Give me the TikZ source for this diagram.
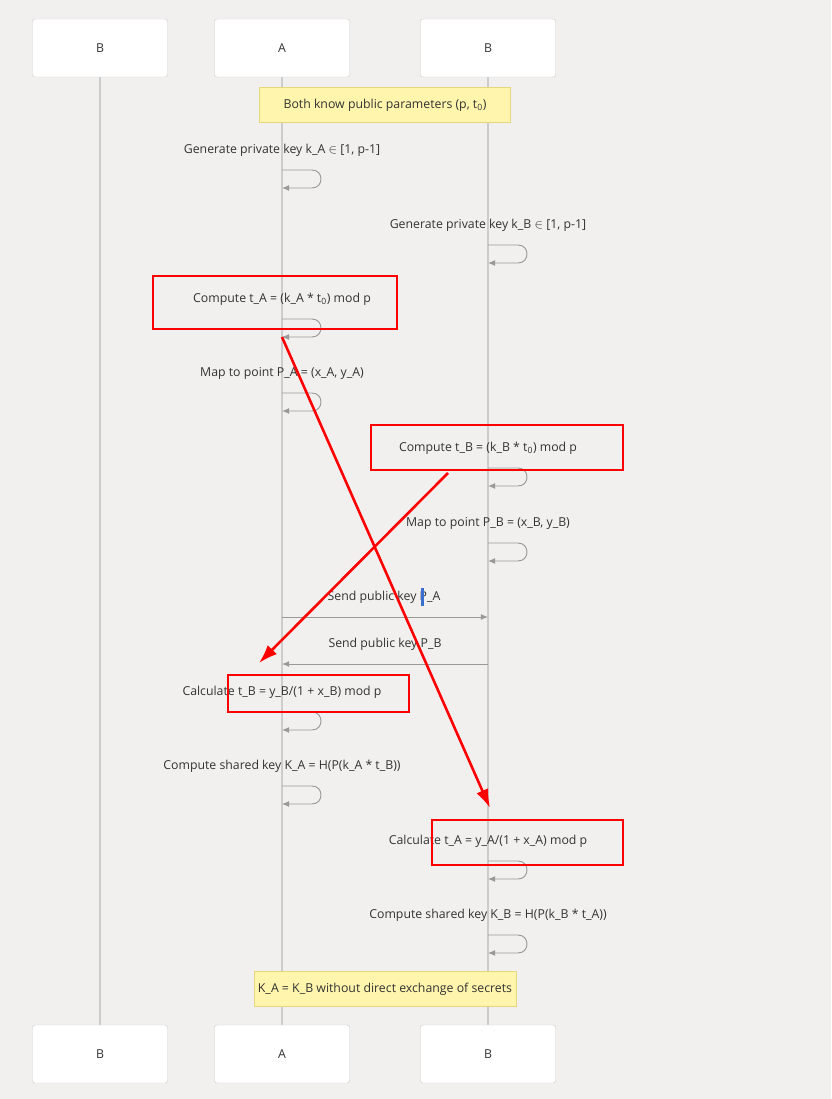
\documentclass[tikz,border=0pt]{standalone}
\usepackage{fontspec}
\setmainfont{Open Sans}
\usetikzlibrary{positioning,arrows.meta}
\definecolor{bgcol}{HTML}{F2F0EF}
\definecolor{notefill}{HTML}{FFF5AD}
\definecolor{notedraw}{HTML}{E6D77F}
\definecolor{linegray}{HTML}{CCCCCC}
\definecolor{msggray}{HTML}{999999}
\definecolor{txt}{HTML}{333333}
\definecolor{cursor}{HTML}{3A6FD0}
\tikzset{
  actor/.style={draw=linegray, fill=white, rounded corners=2pt, minimum width=4.05cm, minimum height=1.74cm, text=txt, font=\fontsize{10.5}{12}\selectfont},
  note/.style={draw=notedraw, fill=notefill, minimum width=7.53cm, minimum height=1.05cm, text=txt, font=\fontsize{10.5}{12}\selectfont},
  lbl/.style={text=txt, font=\fontsize{10.5}{12}\selectfont},
  life/.style={draw=linegray, line width=1pt},
  msg/.style={draw=msggray, line width=0.8pt, -{Latex[length=6pt,width=5pt]}},
  hl/.style={draw=red, line width=2.2pt},
  hlarrow/.style={draw=red, line width=2.2pt, -{Latex[length=16pt,width=11pt]}}
}
\begin{document}
\begin{tikzpicture}[x=0.03cm, y=-0.03cm]
  \fill[bgcol] (0,0) rectangle (831,1099);
  % actors
  \node[actor] (b0t) at (100,48) {B};
  \node[actor] (at) at (282,48) {A};
  \node[actor] (bt) at (488,48) {B};
  \node[actor] (b0b) at (100,1054) {B};
  \node[actor] (ab) at (282,1054) {A};
  \node[actor] (bb) at (488,1054) {B};
  % lifelines
  \draw[life] (b0t) -- (b0b);
  \draw[life] (at) -- (ab);
  \draw[life] (bt) -- (bb);
  % notes
  \node[note] (n1) at (385,105) {Both know public parameters (p, t\textsubscript{0})};
  \node[note] (n2) at (385,989) {K\_A = K\_B without direct exchange of secrets};
  % self messages
  \foreach \name/\xx/\yy/\txt in {
      s1/282/170/{Generate private key k\_A $\in$ [1, p-1]},
      s2/488/245/{Generate private key k\_B $\in$ [1, p-1]},
      s3/282/319/{Compute t\_A = (k\_A * t\textsubscript{0}) mod p},
      s4/282/393/{Map to point P\_A = (x\_A, y\_A)},
      s5/488/468/{Compute t\_B = (k\_B * t\textsubscript{0}) mod p},
      s6/488/543/{Map to point P\_B = (x\_B, y\_B)},
      s7/282/712/{Calculate t\_B = y\_B/(1 + x\_B) mod p},
      s8/282/786/{Compute shared key K\_A = H(P(k\_A * t\_B))},
      s9/488/861/{Calculate t\_A = y\_A/(1 + x\_A) mod p},
      s10/488/935/{Compute shared key K\_B = H(P(k\_B * t\_A))}} {
    \node[lbl] (\name l) at (\xx,\yy-20) {\txt};
    \coordinate (\name a) at (\xx,\yy);
    \coordinate (\name b) at (\xx,\yy+18);
    \draw[msg] (\name a) -- (\xx+30,\yy) .. controls (\xx+42,\yy) and (\xx+42,\yy+18) .. (\xx+30,\yy+18) -- (\name b);
  }
  % messages
  \coordinate (pa1) at (282,617);
  \coordinate (pa2) at (488,617);
  \coordinate (pb1) at (488,664);
  \coordinate (pb2) at (282,664);
  \node[lbl] (m1) at (384,597) {Send public key P\_A};
  \node[lbl] (m2) at (385,644) {Send public key P\_B};
  \fill[cursor] (420.5,588) rectangle (423.5,606);
  \draw[msg] (pa1) -- (pa2);
  \draw[msg] (pb1) -- (pb2);
  % highlights
  \draw[hl] (153,276) rectangle (397,329);
  \draw[hl] (371,425) rectangle (623,470);
  \draw[hl] (228,675) rectangle (409,712);
  \draw[hl] (432,820) rectangle (623,865);
  \coordinate (r1s) at (282,337);
  \coordinate (r1e) at (490,808);
  \coordinate (r2s) at (448,473);
  \coordinate (r2e) at (259,663);
  \draw[hlarrow] (r1s) -- (r1e);
  \draw[hlarrow] (r2s) -- (r2e);
\end{tikzpicture}
\end{document}
